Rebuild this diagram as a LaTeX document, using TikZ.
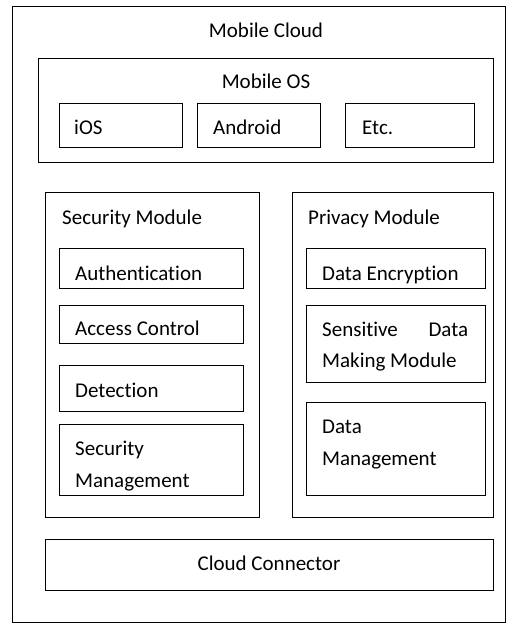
\documentclass[tikz,border=0pt]{standalone}
\usepackage{fontspec}
\setmainfont{Carlito}[Ligatures=NoCommon]
\tikzset{
  box/.style={draw, line width=1.4pt, anchor=north west, inner sep=0pt},
  txt/.style={font=\fontsize{21}{31.5}\selectfont, inner sep=0pt, anchor=base west},
}
\begin{document}
\begin{tikzpicture}[x=1pt, y=-1pt]
\useasboundingbox (0,0) rectangle (509,623);
% outer frame
\node[box, minimum width=493pt, minimum height=616pt] (cloud) at (12,6) {};
\node[txt, anchor=base] (cloudlbl) at (266,38) {Mobile Cloud};
% mobile os
\node[box, minimum width=455pt, minimum height=104pt] (os) at (38,58) {};
\node[txt, anchor=base] (oslbl) at (266,89) {Mobile OS};
\node[box, minimum width=123pt, minimum height=44pt] (ios) at (59,103) {};
\node[txt] (ioslbl) at (74,134) {iOS};
\node[box, minimum width=123pt, minimum height=44pt] (android) at (197,103) {};
\node[txt] (androidlbl) at (213,134) {Android};
\node[box, minimum width=129pt, minimum height=44pt] (etc) at (345,103) {};
\node[txt] (etclbl) at (362,134) {Etc.};
% security module
\node[box, minimum width=214pt, minimum height=325pt] (sec) at (45,192) {};
\node[txt] (seclbl) at (62,224) {Security Module};
\node[box, minimum width=184pt, minimum height=40pt] (auth) at (59,248) {};
\node[txt] (authlbl) at (75,280) {Authentication};
\node[box, minimum width=184pt, minimum height=38pt] (access) at (59,305) {};
\node[txt] (accesslbl) at (75,335) {Access Control};
\node[box, minimum width=184pt, minimum height=46pt] (detect) at (59,365) {};
\node[txt] (detectlbl) at (75,397) {Detection};
\node[box, minimum width=184pt, minimum height=71pt] (secman) at (59,424) {};
% base of a two-line text is its last line
\node[txt, align=left] (secmanlbl) at (75,487) {Security\\Management};
% privacy module
\node[box, minimum width=201pt, minimum height=325pt] (priv) at (292,192) {};
\node[txt] (privlbl) at (308,224) {Privacy Module};
\node[box, minimum width=179pt, minimum height=40pt] (enc) at (306,248) {};
\node[txt] (enclbl) at (322,280) {Data Encryption};
\node[box, minimum width=179pt, minimum height=77pt] (mask) at (306,305) {};
% with a text width the base is the first line
\node[txt, text width=146pt, align=justify] (masklbl) at (322,336) {Sensitive Data Making Module};
\node[box, minimum width=179pt, minimum height=93pt] (dataman) at (306,402) {};
\node[txt, align=left] (datamanlbl) at (322,465) {Data\\Management};
% cloud connector
\node[box, minimum width=448pt, minimum height=51pt] (conn) at (45,539) {};
\node[txt, anchor=base] (connlbl) at (269,570) {Cloud Connector};
\end{tikzpicture}
\end{document}
